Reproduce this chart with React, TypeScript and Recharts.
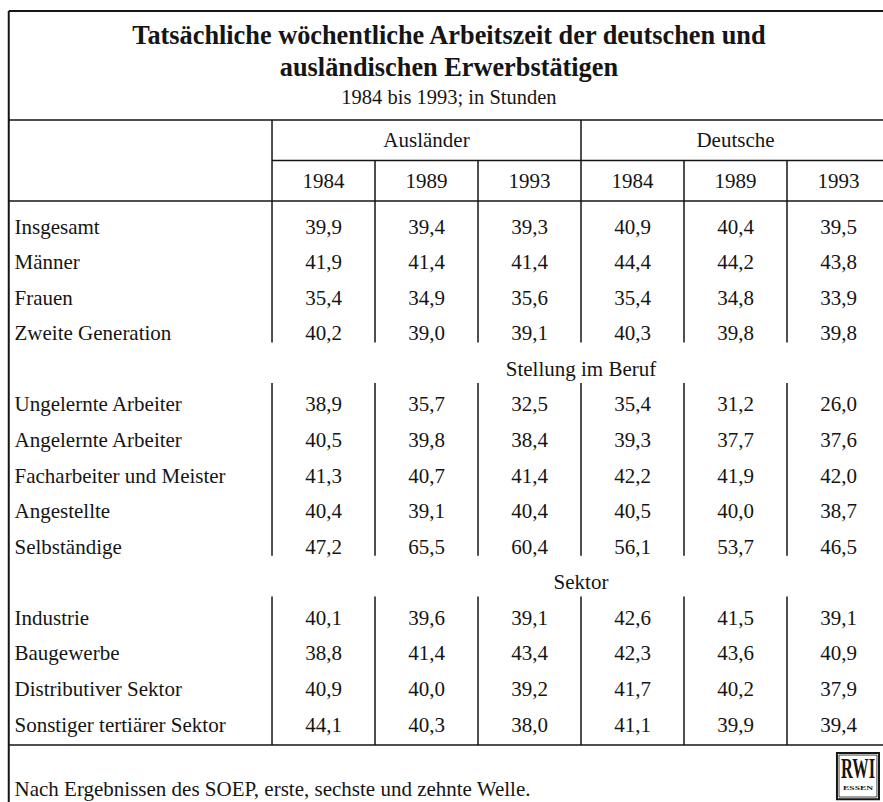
import React from "react";
import { ScatterChart, Scatter, XAxis, YAxis, ReferenceLine, ReferenceArea } from "recharts";

// table texts
const TITLE_LINES = [
  "Tatsächliche wöchentliche Arbeitszeit der deutschen und",
  "ausländischen Erwerbstätigen",
];
const SUBTITLE = "1984 bis 1993; in Stunden";
const GROUPS = ["Ausländer", "Deutsche"];
const YEARS = ["1984", "1989", "1993"];
const NOTE = "Nach Ergebnissen des SOEP, erste, sechste und zehnte Welle.";

// values per row: Ausländer 1984/1989/1993, Deutsche 1984/1989/1993
const personRows = ["Insgesamt", "Männer", "Frauen", "Zweite Generation"];
const personValues = [
  [39.9, 39.4, 39.3, 40.9, 40.4, 39.5],
  [41.9, 41.4, 41.4, 44.4, 44.2, 43.8],
  [35.4, 34.9, 35.6, 35.4, 34.8, 33.9],
  [40.2, 39.0, 39.1, 40.3, 39.8, 39.8],
];

const berufHeading = "Stellung im Beruf";
const berufRows = [
  "Ungelernte Arbeiter",
  "Angelernte Arbeiter",
  "Facharbeiter und Meister",
  "Angestellte",
  "Selbständige",
];
const berufValues = [
  [38.9, 35.7, 32.5, 35.4, 31.2, 26.0],
  [40.5, 39.8, 38.4, 39.3, 37.7, 37.6],
  [41.3, 40.7, 41.4, 42.2, 41.9, 42.0],
  [40.4, 39.1, 40.4, 40.5, 40.0, 38.7],
  [47.2, 65.5, 60.4, 56.1, 53.7, 46.5],
];

const sektorHeading = "Sektor";
const sektorRows = ["Industrie", "Baugewerbe", "Distributiver Sektor", "Sonstiger tertiärer Sektor"];
const sektorValues = [
  [40.1, 39.6, 39.1, 42.6, 41.5, 39.1],
  [38.8, 41.4, 43.4, 42.3, 43.6, 40.9],
  [40.9, 40.0, 39.2, 41.7, 40.2, 37.9],
  [44.1, 40.3, 38.0, 41.1, 39.9, 39.4],
];

// layout, in table units (x = data column index, y = row index)
const X_MIN = -3.141;
const X_MAX = 5.432;
const Y_MIN = -6.368;
const Y_MAX = 16.18;
const LEFT = -3.056;
const LABEL_X = -3;
const SPLIT_X = 2.5;
const TITLE_X = 1.218;
const TITLE_Y = [-5.384, -4.484];
const SUBTITLE_Y = -3.641;
const TOP_Y = -6.058;
const HEADER_Y = -2.994;
const GROUP_ROW = -2.432;
const GROUP_LINE = -1.856;
const YEAR_ROW = -1.279;
const YEAR_LINE = -0.717;
const BOTTOM_Y = 14.577;
const NOTE_Y = 15.8;

const FONT = "'Liberation Serif', 'Times New Roman', serif";
const INK = "#151515";
const BODY = 21;

const fmt = (v: number) => v.toFixed(1).replace(".", ",");

// rows in order, headings take a row of their own
const blocks = [
  { heading: null as string | null, rows: personRows, values: personValues },
  { heading: berufHeading, rows: berufRows, values: berufValues },
  { heading: sektorHeading, rows: sektorRows, values: sektorValues },
];

const labelPoints: { x: number; y: number; text: string }[] = [];
const valuePoints: { x: number; y: number; text: string }[] = [];
const headingPoints: { x: number; y: number; text: string }[] = [];
const blockSpans: { top: number; bottom: number }[] = [];
let k = 0;
blocks.forEach((b, bi) => {
  if (b.heading) {
    headingPoints.push({ x: SPLIT_X, y: k, text: b.heading });
    k += 1;
  }
  const first = k;
  b.rows.forEach((name, ri) => {
    labelPoints.push({ x: LABEL_X, y: k, text: name });
    b.values[ri].forEach((v, ci) => valuePoints.push({ x: ci, y: k, text: fmt(v) }));
    k += 1;
  });
  const last = k - 1;
  blockSpans.push({
    top: bi === 0 ? HEADER_Y : first - 0.6,
    bottom: bi === blocks.length - 1 ? BOTTOM_Y : last + 0.26,
  });
});

const yearPoints = GROUPS.flatMap((_, gi) => YEARS.map((yr, yi) => ({ x: gi * 3 + yi, y: YEAR_ROW, text: yr })));
const groupPoints = GROUPS.map((g, gi) => ({ x: gi * 3 + 1, y: GROUP_ROW, text: g }));
const titlePoints = TITLE_LINES.map((t, i) => ({ x: TITLE_X, y: TITLE_Y[i], text: t }));

const textShape =
  (size: number, anchor: string, weight: string | number = "normal") =>
  (props: any) =>
    (
      <text
        x={props.cx}
        y={props.cy}
        dy="0.34em"
        textAnchor={anchor}
        fontSize={size}
        fontWeight={weight}
        fontFamily={FONT}
        fill={INK}
      >
        {props.payload.text}
      </text>
    );

// RWI / ESSEN logo, one text with two lines
const logoShape = (props: any) => (
  <text textAnchor="middle" fontWeight="bold" fontFamily={FONT} fill={INK}>
    <tspan x={props.cx} y={props.cy + 6} fontSize={29} textLength={34} lengthAdjust="spacingAndGlyphs">
      RWI
    </tspan>
    <tspan x={props.cx} y={props.cy + 18} fontSize={6.5} textLength={30} lengthAdjust="spacingAndGlyphs">
      ESSEN
    </tspan>
  </text>
);

const line = (x1: number, y1: number, x2: number, y2: number, key: string, w = 1.5) => (
  <ReferenceLine
    key={key}
    segment={[
      { x: x1, y: y1 },
      { x: x2, y: y2 },
    ]}
    stroke={INK}
    strokeWidth={w}
    ifOverflow="visible"
  />
);

export default function App() {
  const verticals: React.ReactNode[] = [];
  blockSpans.forEach((s, i) => {
    verticals.push(line(-0.5, s.top, -0.5, s.bottom, `l${i}`));
    verticals.push(line(SPLIT_X, s.top, SPLIT_X, s.bottom, `s${i}`));
    [0.5, 1.5, 3.5, 4.5].forEach((x) =>
      verticals.push(line(x, i === 0 ? GROUP_LINE : s.top, x, s.bottom, `v${i}-${x}`))
    );
  });

  return (
    <div style={{ width: 883, height: 802, background: "#fff" }}>
      <style>{"body{margin:0;overflow:hidden;background:#fff}"}</style>
      <ScatterChart width={883} height={802} margin={{ top: 0, right: 0, bottom: 0, left: 0 }}>
        <XAxis type="number" dataKey="x" domain={[X_MIN, X_MAX]} allowDataOverflow hide />
        <YAxis type="number" dataKey="y" domain={[Y_MIN, Y_MAX]} allowDataOverflow reversed hide />

        {line(LEFT, TOP_Y, X_MAX, TOP_Y, "top", 2)}
        {line(LEFT, TOP_Y, LEFT, Y_MAX, "left", 2)}
        {line(LEFT, HEADER_Y, X_MAX, HEADER_Y, "header")}
        {line(-0.5, GROUP_LINE, X_MAX, GROUP_LINE, "group")}
        {line(LEFT, YEAR_LINE, X_MAX, YEAR_LINE, "year")}
        {line(LEFT, BOTTOM_Y, X_MAX, BOTTOM_Y, "bottom")}
        {verticals}

        <ReferenceArea x1={4.985} x2={5.393} y1={14.8} y2={16.1} fill="none" stroke={INK} strokeWidth={2} ifOverflow="visible" />
        <ReferenceArea x1={5.005} x2={5.373} y1={14.86} y2={16.04} fill="none" stroke={INK} strokeWidth={0.8} ifOverflow="visible" />

        <Scatter data={titlePoints} shape={textShape(26.3, "middle", "bold")} isAnimationActive={false} />
        <Scatter data={[{ x: TITLE_X, y: SUBTITLE_Y, text: SUBTITLE }]} shape={textShape(20.5, "middle")} isAnimationActive={false} />
        <Scatter data={groupPoints} shape={textShape(BODY, "middle")} isAnimationActive={false} />
        <Scatter data={yearPoints} shape={textShape(BODY, "middle")} isAnimationActive={false} />
        <Scatter data={labelPoints} shape={textShape(BODY, "start")} isAnimationActive={false} />
        <Scatter data={headingPoints} shape={textShape(BODY, "middle")} isAnimationActive={false} />
        <Scatter data={valuePoints} shape={textShape(BODY, "middle")} isAnimationActive={false} />
        <Scatter data={[{ x: LABEL_X, y: NOTE_Y, text: NOTE }]} shape={textShape(BODY, "start")} isAnimationActive={false} />
        <Scatter data={[{ x: 5.19, y: 15.35, text: "RWI" }]} shape={logoShape} isAnimationActive={false} />
      </ScatterChart>
    </div>
  );
}
